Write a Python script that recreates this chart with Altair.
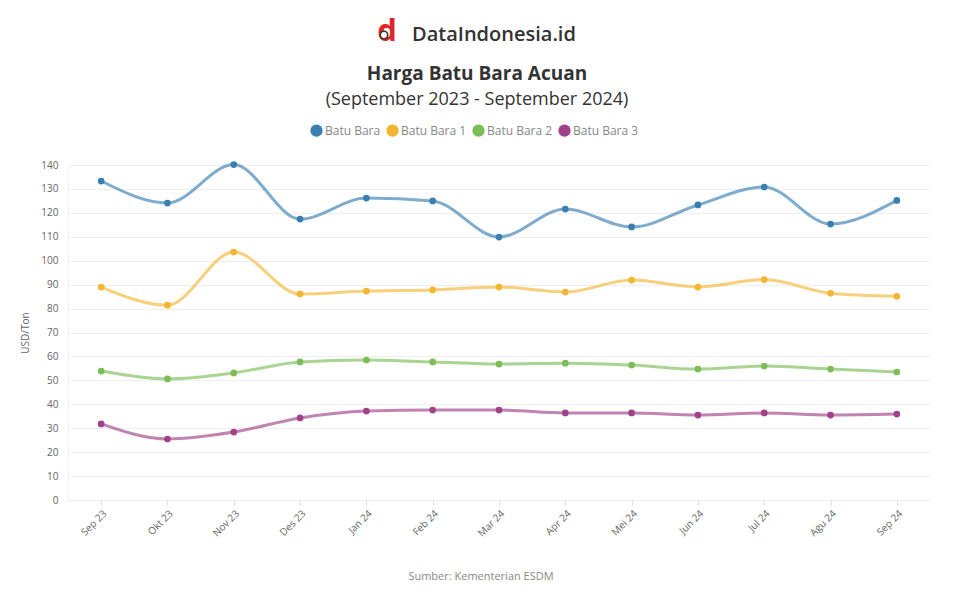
import altair as alt
import pandas as pd

months = ["Sep 23", "Okt 23", "Nov 23", "Des 23", "Jan 24", "Feb 24", "Mar 24",
          "Apr 24", "Mei 24", "Jun 24", "Jul 24", "Agu 24", "Sep 24"]
series_names = ["Batu Bara", "Batu Bara 1", "Batu Bara 2", "Batu Bara 3"]
batu_bara = [133.3, 124.1, 140.2, 117.4, 126.2, 125.0, 109.9, 121.6, 114.1, 123.3, 130.8, 115.3, 125.2]
batu_bara_1 = [89.0, 81.4, 103.6, 86.1, 87.3, 87.8, 89.0, 86.9, 91.9, 89.0, 92.1, 86.4, 85.1]
batu_bara_2 = [53.9, 50.6, 53.1, 57.7, 58.5, 57.7, 56.8, 57.2, 56.4, 54.7, 56.0, 54.7, 53.5]
batu_bara_3 = [31.8, 25.5, 28.4, 34.3, 37.2, 37.6, 37.6, 36.4, 36.4, 35.5, 36.4, 35.5, 35.9]
y_ticks = list(range(0, 141, 10))
colors = ["#3b7fb2", "#f4b632", "#7dbd58", "#a0418a"]

rows = []
for name, vals in zip(series_names, [batu_bara, batu_bara_1, batu_bara_2, batu_bara_3]):
    for m, v in zip(months, vals):
        rows.append({"bulan": m, "seri": name, "nilai": v})
df = pd.DataFrame(rows)

FONT = "Open Sans"

x = alt.X("bulan:N", sort=months, title=None,
          scale=alt.Scale(type="point", padding=0.5),
          axis=alt.Axis(labelAngle=-45, labelAlign="right", labelBaseline="top",
                        labelColor="#666", labelFontSize=10, labelPadding=3,
                        domain=False, tickColor="#e0e0e0", tickSize=5,
                        grid=False))
y = alt.Y("nilai:Q", title="USD/Ton",
          scale=alt.Scale(domain=[0, 140], nice=False, zero=True),
          axis=alt.Axis(values=y_ticks, labelColor="#666", labelFontSize=10,
                        titleColor="#666", titleFontSize=10, titleFontWeight="normal",
                        titlePadding=10, gridColor="#efefef", domain=True,
                        domainColor="#f2f2f2", ticks=False, labelPadding=10))
color_scale = alt.Scale(domain=series_names, range=colors)
legend = alt.Legend(title=None, orient="none", direction="horizontal",
                    legendX=242, legendY=-41, symbolType="circle",
                    symbolSize=150, labelFontSize=12, labelColor="#888",
                    columnPadding=5, labelOffset=2, labelFont=FONT,
                    symbolStrokeWidth=0, symbolOpacity=1)

base = alt.Chart(df)
lines = base.mark_line(interpolate="monotone", strokeWidth=3, opacity=0.65).encode(
    x=x, y=y, color=alt.Color("seri:N", scale=color_scale, legend=legend))
points = base.mark_point(filled=True, size=45, opacity=1).encode(
    x=x, y=y, color=alt.Color("seri:N", scale=color_scale, legend=legend))

def txt(text, xx, yy, size, weight="normal", color="#333", align="center"):
    return alt.Chart(pd.DataFrame({"t": [text]})).mark_text(
        fontSize=size, fontWeight=weight, color=color, align=align, baseline="middle",
        font=FONT).encode(text="t:N", x=alt.value(xx), y=alt.value(yy))

logo_d = txt("d", 319, -133, 31, "bold", "#e0262b")
logo_lens = alt.Chart(pd.DataFrame({"t": ["lens"]})).mark_point(
    shape="circle", size=55, fill="white", fillOpacity=1, stroke="#333",
    strokeWidth=1.6, opacity=1).encode(x=alt.value(316), y=alt.value(-130))
brand = txt("DataIndonesia.id", 344, -130, 20, 600, "#333", "left")
title = txt("Harga Batu Bara Acuan", 409, -91, 19, "bold")
subtitle = txt("(September 2023 - September 2024)", 409, -65, 18)
source = txt("Sumber: Kementerian ESDM", 413, 412, 11, "normal", "#888")

chart = alt.layer(lines, points, logo_d, logo_lens, brand, title, subtitle, source).properties(
    width=862, height=335,
    autosize=alt.AutoSizeParams(type="none"),
    padding={"left": 68, "top": 165, "right": 24, "bottom": 96},
    background="white",
    view=alt.ViewBackground(stroke="#ffffff", strokeWidth=0, strokeOpacity=0),
).configure(font=FONT, view=alt.ViewConfig(stroke="#ffffff", strokeWidth=0, strokeOpacity=0))

chart.save("out.html", embed_options={"renderer": "svg", "actions": False})
